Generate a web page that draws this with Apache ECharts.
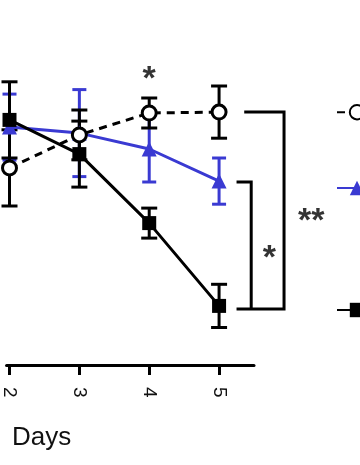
<!DOCTYPE html>
<html>
<head>
<meta charset="utf-8">
<script src="https://cdn.jsdelivr.net/npm/echarts@6/dist/echarts.min.js"></script>
<style>html,body{margin:0;padding:0;background:#fff}#c{width:360px;height:465px}</style>
</head>
<body>
<div id="c"></div>
<script>
var days = [2, 3, 4, 5];
var tickValues = [2, 3, 4, 5];
var circleMean = [65.7, 76.7, 84.0, 84.3];
var circleErr  = [12.7, 8.3, 5.0, 8.7];
var triMean    = [79.3, 77.3, 72.0, 61.3];
var triErr     = [11.0, 14.5, 11.0, 7.7];
var squareMean = [81.7, 70.3, 47.3, 19.7];
var squareErr  = [12.7, 11.0, 5.0, 7.2];
var seriesNames = ['Group A', 'Group B', 'Group C'];
var bracketOuter = [[5.36, 84.3], [5.93, 84.3], [5.93, 18.7], [5.25, 18.7]];
var bracketInner = [[5.25, 61.0], [5.46, 61.0], [5.46, 18.7]];
var stars = [[4.0, 97.3, '*'], [5.72, 37.7, '*'], [6.32, 50.0, '**']];

var BLUE = '#3a3ad2';
function pts(m){ return days.map(function(d,i){ return [d, m[i]]; }); }
function errs(m,e){ return days.map(function(d,i){ return [d, m[i]-e[i], m[i]+e[i]]; }); }
function errSeries(m, e, color, half){
  return {
    type: 'custom', silent: true, clip: false, z: 3,
    data: errs(m, e),
    renderItem: function(params, api){
      var top = api.coord([api.value(0), api.value(2)]);
      var bot = api.coord([api.value(0), api.value(1)]);
      var st = {stroke: color, lineWidth: 3};
      return {type: 'group', children: [
        {type: 'line', shape: {x1: top[0], y1: top[1], x2: bot[0], y2: bot[1]}, style: st},
        {type: 'line', shape: {x1: top[0]-half, y1: top[1], x2: top[0]+half, y2: top[1]}, style: st},
        {type: 'line', shape: {x1: bot[0]-half, y1: bot[1], x2: bot[0]+half, y2: bot[1]}, style: st}
      ]};
    }
  };
}
function bracketSeries(pointsList){
  return {
    type: 'custom', silent: true, clip: false, z: 2,
    data: [0],
    renderItem: function(params, api){
      return {type: 'group', children: pointsList.map(function(pl){
        return {type: 'polyline', shape: {points: pl.map(function(p){ return api.coord(p); })},
          style: {stroke: '#000', lineWidth: 3, fill: null}};
      })};
    }
  };
}
var chart = echarts.init(document.getElementById('c'), null, {renderer: 'canvas'});
chart.setOption({
  animation: false,
  backgroundColor: '#fff',
  title: {text: 'Days', left: 7, top: 420, textStyle: {fontFamily: 'Liberation Sans', fontSize: 26, fontWeight: 'normal', color: '#111'}},
  grid: {left: 0, right: 106, top: 5, bottom: 100},
  xAxis: {
    type: 'value', min: 1.958, max: 5.5,
    splitLine: {show: false},
    axisLine: {onZero: false, lineStyle: {color: '#000', width: 3}},
    axisTick: {show: true, length: 10, lineStyle: {color: '#000', width: 3}, customValues: tickValues},
    axisLabel: {rotate: -90, margin: 22, color: '#111', fontFamily: 'Liberation Sans', fontSize: 19, customValues: tickValues}
  },
  yAxis: {type: 'value', min: 0, max: 120, show: false, splitLine: {show: false}},
  legend: [0,1,2].map(function(i){
    return {data: [seriesNames[i]], left: 331, top: [99, 175, 297][i], itemWidth: 40, itemHeight: 18,
      textStyle: {fontSize: 16, color: '#000'}, selectedMode: false};
  }),
  series: [
    errSeries(triMean, triErr, BLUE, 7),
    {name: seriesNames[1], type: 'line', data: pts(triMean), z: 4, symbol: 'triangle', symbolSize: 15,
      itemStyle: {color: BLUE}, lineStyle: {color: BLUE, width: 3}},
    errSeries(circleMean, circleErr, '#000', 8),
    {name: seriesNames[0], type: 'line', data: pts(circleMean), z: 5, symbol: 'circle', symbolSize: 14,
      itemStyle: {color: '#fff', borderColor: '#000', borderWidth: 3}, lineStyle: {color: '#000', width: 3, type: [8, 6]}},
    errSeries(squareMean, squareErr, '#000', 8),
    {name: seriesNames[2], type: 'line', data: pts(squareMean), z: 6, symbol: 'rect', symbolSize: 14,
      itemStyle: {color: '#000'}, lineStyle: {color: '#000', width: 3}},
    bracketSeries([bracketOuter, bracketInner]),
    {type: 'scatter', data: stars, clip: false, symbolSize: 0, silent: true,
      label: {show: true, position: 'inside', offset: [0, 7], formatter: function(p){ return p.data[2]; },
        fontFamily: 'Liberation Sans', fontWeight: 'bold', fontSize: 34, color: '#000'}}
  ]
});
</script>
</body>
</html>
